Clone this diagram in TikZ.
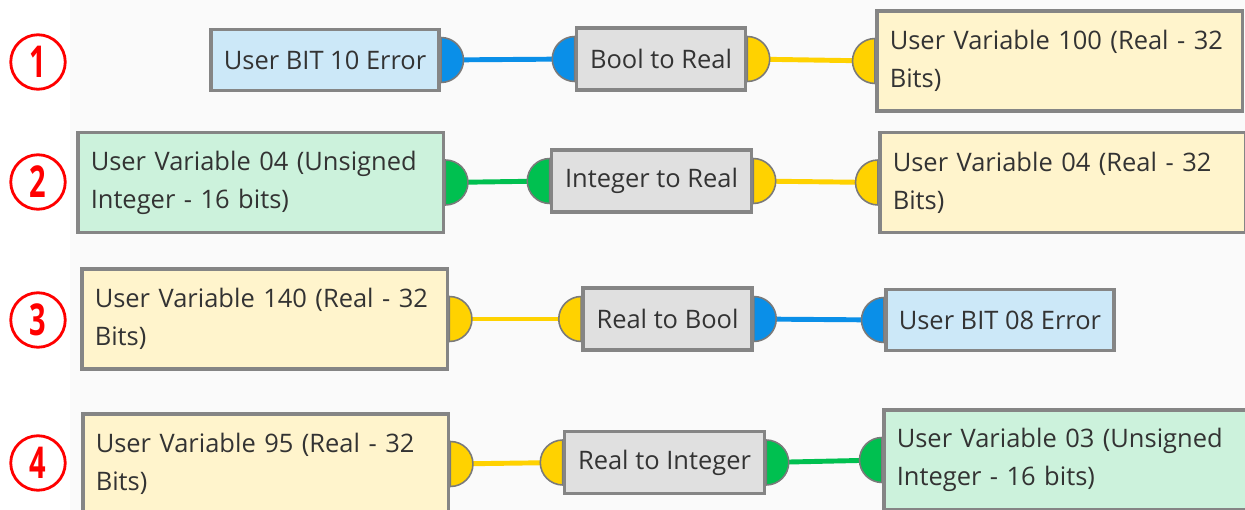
\documentclass[tikz,border=0pt]{standalone}
\usepackage{fontspec}
\setmainfont{Open Sans}
\usepackage{tikz}
\usetikzlibrary{backgrounds}
\definecolor{TextGray}{HTML}{333333}
\definecolor{FrameGray}{HTML}{858585}
\definecolor{PortEdge}{HTML}{7A7A7A}
\definecolor{PanelGray}{HTML}{FAFAFA}
\definecolor{BitFill}{HTML}{CCE8F8}
\definecolor{RealFill}{HTML}{FFF4CC}
\definecolor{UIntFill}{HTML}{CCF2DC}
\definecolor{ConvFill}{HTML}{E0E0E0}
\definecolor{BitBlue}{HTML}{0A8FE8}
\definecolor{RealYellow}{HTML}{FFD200}
\definecolor{UIntGreen}{HTML}{00C050}
\definecolor{MarkRed}{HTML}{FF0000}
\newcommand{\outport}[2]{\filldraw[port, fill=#2] ([yshift=0.45cm]#1.east)
  arc[start angle=90, end angle=-90, radius=0.45cm] -- cycle;}
\newcommand{\inport}[2]{\filldraw[port, fill=#2] ([yshift=0.45cm]#1.west)
  arc[start angle=90, end angle=270, radius=0.45cm] -- cycle;}

\begin{document}
\begin{tikzpicture}[
    x=0.02cm, y=-0.02cm,
    every node/.style={text=TextGray, font=\fontsize{14.5}{21.5}\selectfont},
    varbox/.style={draw=FrameGray, line width=2pt, text width=6.8cm,
      inner xsep=0.26cm, minimum height=2cm, align=left},
    bitbox/.style={draw=FrameGray, line width=2pt, fill=BitFill,
      inner xsep=0.26cm, minimum height=1.22cm},
    convbox/.style={draw=FrameGray, line width=2pt, fill=ConvFill,
      inner xsep=0.27cm, minimum height=1.24cm},
    badge/.style={circle, draw=MarkRed, line width=1.6pt, minimum size=1.09cm,
      inner sep=0pt, text=MarkRed, font=\fontsize{25}{25}\selectfont\bfseries},
    port/.style={draw=PortEdge, line width=0.9pt},
    wire/.style={line width=2.8pt}
  ]
    \useasboundingbox (0,0) rectangle (1245,510);
    \node[badge] (m1) at (38,62) {\scalebox{0.66}[1]{1}};
    \node[badge] (m2) at (38,182) {\scalebox{0.66}[1]{2}};
    \node[badge] (m3) at (38,320) {\scalebox{0.66}[1]{3}};
    \node[badge] (m4) at (38,463) {\scalebox{0.66}[1]{4}};

    \node[bitbox, anchor=east] (u10) at (441,60) {User BIT 10 Error};
    \node[convbox] (b2r) at (661,59) {Bool to Real};
    \node[varbox, fill=RealFill, anchor=west] (v100) at (875,61)
      {User Variable 100 (Real - 32\\Bits)};

    \node[varbox, fill=UIntFill, anchor=west] (v04u) at (76,182.5)
      {User Variable 04 (Unsigned\\Integer - 16 bits)};
    \node[convbox] (i2r) at (651.5,181) {Integer to Real};
    \node[varbox, fill=RealFill, anchor=west] (v04r) at (878,182.5)
      {User Variable 04 (Real - 32\\Bits)};

    \node[varbox, fill=RealFill, anchor=west] (v140) at (80,319)
      {User Variable 140 (Real - 32\\Bits)};
    \node[convbox] (r2b) at (667.5,319) {Real to Bool};
    \node[bitbox, anchor=west] (u08) at (884,320) {User BIT 08 Error};

    \node[varbox, fill=RealFill, anchor=west] (v95) at (81,464)
      {User Variable 95 (Real - 32\\Bits)};
    \node[convbox] (r2i) at (664.5,462.5) {Real to Integer};
    \node[varbox, fill=UIntFill, anchor=west] (v03) at (882,460)
      {User Variable 03 (Unsigned\\Integer - 16 bits)};

    \begin{pgfonlayer}{background}
      \fill[white] (0,0) rectangle (1245,510);
      \fill[PanelGray] (70,0) rectangle (1245,510);
      \draw[wire, BitBlue] (u10.east) -- (b2r.west);
      \draw[wire, RealYellow] (b2r.east) -- (v100.west);
      \draw[wire, UIntGreen] (v04u.east) -- (i2r.west);
      \draw[wire, RealYellow] (i2r.east) -- (v04r.west);
      \draw[wire, RealYellow] (v140.east) -- (r2b.west);
      \draw[wire, BitBlue] (r2b.east) -- (u08.west);
      \draw[wire, RealYellow] (v95.east) -- (r2i.west);
      \draw[wire, UIntGreen] (r2i.east) -- (v03.west);
      \outport{u10}{BitBlue} \inport{b2r}{BitBlue}
      \outport{b2r}{RealYellow} \inport{v100}{RealYellow}
      \outport{v04u}{UIntGreen} \inport{i2r}{UIntGreen}
      \outport{i2r}{RealYellow} \inport{v04r}{RealYellow}
      \outport{v140}{RealYellow} \inport{r2b}{RealYellow}
      \outport{r2b}{BitBlue} \inport{u08}{BitBlue}
      \outport{v95}{RealYellow} \inport{r2i}{RealYellow}
      \outport{r2i}{UIntGreen} \inport{v03}{UIntGreen}
    \end{pgfonlayer}
  \end{tikzpicture}
\end{document}
